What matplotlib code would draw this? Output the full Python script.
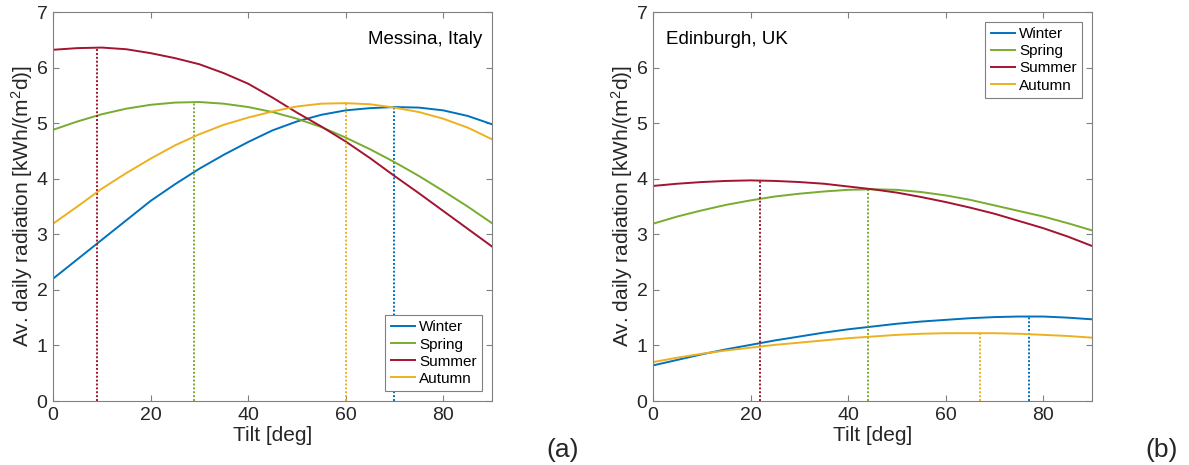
import numpy as np
import matplotlib
matplotlib.use("Agg")
import matplotlib.pyplot as plt

plt.rcParams['font.family'] = ['Liberation Sans', 'DejaVu Sans']
plt.rcParams['mathtext.fontset'] = 'custom'
plt.rcParams['mathtext.rm'] = 'Liberation Sans'
plt.rcParams['mathtext.it'] = 'Liberation Sans:italic'

# Data (tilt every 5 deg)
tilt = [0, 5, 10, 15, 20, 25, 30, 35, 40, 45, 50, 55, 60, 65, 70, 75, 80, 85, 90]
seasons = ["Winter", "Spring", "Summer", "Autumn"]
colors = ["#0072BD", "#77AC30", "#A2142F", "#EDB120"]

# Messina, Italy
messina_winter = [2.20, 2.55, 2.90, 3.25, 3.60, 3.90, 4.18, 4.43, 4.66, 4.87, 5.03, 5.15, 5.23, 5.27, 5.29, 5.28, 5.23, 5.13, 4.98]
messina_spring = [4.88, 5.03, 5.16, 5.26, 5.33, 5.37, 5.38, 5.35, 5.29, 5.20, 5.08, 4.93, 4.74, 4.53, 4.30, 4.05, 3.78, 3.50, 3.20]
messina_summer = [6.32, 6.35, 6.36, 6.33, 6.26, 6.17, 6.06, 5.90, 5.71, 5.46, 5.19, 4.94, 4.67, 4.37, 4.05, 3.74, 3.42, 3.10, 2.78]
messina_autumn = [3.19, 3.50, 3.82, 4.10, 4.36, 4.60, 4.80, 4.97, 5.10, 5.21, 5.30, 5.35, 5.36, 5.34, 5.28, 5.20, 5.08, 4.92, 4.71]
messina_opt = [70, 29, 9, 60]

# Edinburgh, UK
edinburgh_winter = [0.64, 0.74, 0.84, 0.93, 1.01, 1.09, 1.16, 1.23, 1.29, 1.34, 1.39, 1.43, 1.46, 1.49, 1.51, 1.52, 1.52, 1.50, 1.47]
edinburgh_spring = [3.19, 3.32, 3.43, 3.53, 3.61, 3.68, 3.73, 3.77, 3.80, 3.81, 3.80, 3.76, 3.70, 3.62, 3.52, 3.42, 3.32, 3.20, 3.07]
edinburgh_summer = [3.87, 3.91, 3.94, 3.96, 3.97, 3.96, 3.94, 3.91, 3.86, 3.81, 3.75, 3.67, 3.58, 3.48, 3.37, 3.24, 3.11, 2.96, 2.79]
edinburgh_autumn = [0.70, 0.78, 0.85, 0.91, 0.96, 1.01, 1.05, 1.09, 1.13, 1.16, 1.19, 1.21, 1.22, 1.22, 1.22, 1.21, 1.19, 1.17, 1.14]
edinburgh_opt = [77, 44, 22, 67]

W, H = 1189, 465
fig = plt.figure(figsize=(W / 100, H / 100), dpi=100)

axis_gray = "0.5"
text_gray = "0.15"


def make_axes(left_px, series, opts, place, legend_loc, legend_anchor, label, tag, tag_x):
    ax = fig.add_axes([left_px / W, (H - 401) / H, 439 / W, 389 / H])
    for name, col, vals, opt in zip(seasons, colors, series, opts):
        ax.plot(tilt, vals, color=col, lw=1.4, label=name)
        ax.vlines(opt, 0, np.interp(opt, tilt, vals), colors=col, linestyles=(0, (1, 1)), lw=1.4)
    ax.set_xlim(0, 90)
    ax.set_ylim(0, 7)
    ax.set_xticks([0, 20, 40, 60, 80])
    ax.set_yticks(range(8))
    ax.tick_params(direction="in", length=4, width=0.8, top=True, right=True,
                   color=axis_gray, labelcolor=text_gray, labelsize=14, pad=4)
    for s in ax.spines.values():
        s.set_color(axis_gray)
        s.set_linewidth(0.8)
    ax.set_xlabel("Tilt [deg]", fontsize=15, color=text_gray, labelpad=2)
    ax.set_ylabel("Av. daily radiation [kWh/(m$^2$d)]", fontsize=15, color=text_gray, labelpad=1)
    tx, ha = place
    ax.text(tx, 0.918, label, transform=ax.transAxes, ha=ha, va="baseline",
            fontsize=13.5, color="black")
    leg = ax.legend(loc=legend_loc, bbox_to_anchor=legend_anchor, fontsize=11,
                    fancybox=False, framealpha=1, edgecolor=axis_gray,
                    handlelength=1.6, handletextpad=0.25, labelspacing=0.2,
                    borderpad=0.35, borderaxespad=0)
    leg.get_frame().set_linewidth(0.8)
    fig.text(tag_x, 0.032, tag, fontsize=19, ha="center", va="center", color=text_gray)
    return ax


make_axes(53, [messina_winter, messina_spring, messina_summer, messina_autumn],
          messina_opt, (0.977, "right"), "lower right",
          (1 - 10 / 439, 10 / 389), "Messina, Italy", "(a)", 0.473)
make_axes(653, [edinburgh_winter, edinburgh_spring, edinburgh_summer, edinburgh_autumn],
          edinburgh_opt, (0.03, "left"), "upper right",
          (1 - 10 / 439, 1 - 10 / 389), "Edinburgh, UK", "(b)", 0.977)

fig.savefig("out.png", dpi=100)
